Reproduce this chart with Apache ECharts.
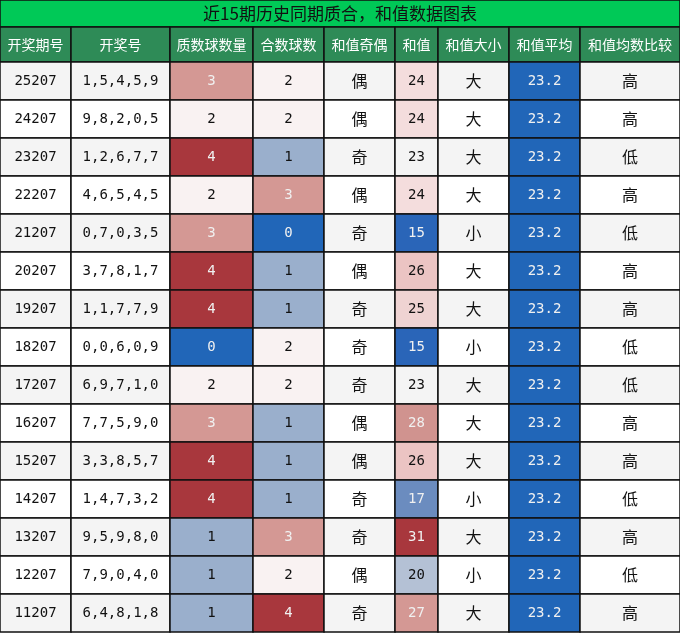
<!DOCTYPE html>
<html><head><meta charset="utf-8">
<script src="https://cdn.jsdelivr.net/npm/echarts@6/dist/echarts.min.js"></script>
<style>html,body{margin:0;padding:0}#c{width:680px;height:633px}</style>
</head><body><div id="c"></div>
<script>
var title = '近15期历史同期质合，和值数据图表';
var headers = ['开奖期号','开奖号','质数球数量','合数球数','和值奇偶','和值','和值大小','和值平均','和值均数比较'];
var periods = ['25207','24207','23207','22207','21207','20207','19207','18207','17207','16207','15207','14207','13207','12207','11207'];
var numbers = ['1,5,4,5,9','9,8,2,0,5','1,2,6,7,7','4,6,5,4,5','0,7,0,3,5','3,7,8,1,7','1,1,7,7,9','0,0,6,0,9','6,9,7,1,0','7,7,5,9,0','3,3,8,5,7','1,4,7,3,2','9,5,9,8,0','7,9,0,4,0','6,4,8,1,8'];
var primes = [3,2,4,2,3,4,4,0,2,3,4,4,1,1,1];
var composites = [2,2,1,3,0,1,1,2,2,1,1,1,3,2,4];
var parity = ['偶','偶','奇','偶','奇','偶','奇','奇','奇','偶','偶','奇','奇','偶','奇'];
var sums = [24,24,23,24,15,26,25,15,23,28,26,17,31,20,27];
var sizes = ['大','大','大','大','小','大','大','小','大','大','大','小','大','小','大'];
var avg = 23.2;
var compare = ['高','高','低','高','低','高','高','低','低','高','高','低','高','低','高'];

// layout
var colEdges = [0,71,170,253,324,395,438,509,580,680];
var titleH = 27, headH = 35, rowH = 38;
var countColor = {0:'#2166b8',1:'#9aafcc',2:'#f9f2f2',3:'#d49894',4:'#a8373d'};
var sumColor = {15:'#2a65b8',17:'#6b8cbf',20:'#b4c1d5',23:null,24:'#f4dddd',25:'#efd3d2',26:'#ebc4c3',27:'#d49894',28:'#d0938f',31:'#a8373d'};
var darkFill = ['#2166b8','#2a65b8','#6b8cbf','#a8373d','#d49894','#d0938f'];

var cells = [];
cells.push({x0:0,x1:680,y0:0,y1:titleH,text:title,fill:'#00c957',color:'#111',font:'"Noto Sans CJK SC"',size:17});
headers.forEach(function(h,i){
  cells.push({x0:colEdges[i],x1:colEdges[i+1],y0:titleH,y1:titleH+headH,text:h,fill:'#2e8b57',color:'#fff',font:'"Noto Sans CJK SC"',size:14});
});
periods.forEach(function(p,r){
  var bg = r%2===0 ? '#f4f4f4' : '#ffffff';
  var y0 = titleH+headH+r*rowH, y1 = y0+rowH;
  var vals = [p,numbers[r],primes[r],composites[r],parity[r],sums[r],sizes[r],avg.toFixed(1),compare[r]];
  var fills = [bg,bg,countColor[primes[r]],countColor[composites[r]],bg,sumColor[sums[r]]||bg,bg,'#2166b8',bg];
  vals.forEach(function(v,c){
    var f = fills[c];
    var cjk = (c===4||c===6||c===8);
    cells.push({x0:colEdges[c],x1:colEdges[c+1],y0:y0,y1:y1,text:String(v),fill:f,
      color: darkFill.indexOf(f)>=0 ? '#f0f0f0' : '#111',
      font: cjk ? '"Noto Sans CJK SC"' : '"DejaVu Sans Mono"', size: cjk?16:14});
  });
});

var chart = echarts.init(document.getElementById('c'));
chart.setOption({
  animation:false,
  grid:{left:0,right:0,top:0,bottom:0},
  xAxis:{type:'value',min:0,max:680,show:false},
  yAxis:{type:'value',min:0,max:633,inverse:true,show:false},
  series:[{
    type:'custom',
    data: cells.map(function(c,i){return [c.x0,c.y0,c.x1,c.y1,i];}),
    renderItem:function(params,api){
      var c = cells[api.value(4)];
      var p0 = api.coord([api.value(0),api.value(1)]);
      var p1 = api.coord([api.value(2),api.value(3)]);
      return {type:'group',children:[
        {type:'rect',shape:{x:p0[0],y:p0[1],width:p1[0]-p0[0],height:p1[1]-p0[1]},
         style:{fill:c.fill,stroke:'#111',lineWidth:1.5}},
        {type:'text',style:{x:(p0[0]+p1[0])/2,y:(p0[1]+p1[1])/2,text:c.text,fill:c.color,
         font:c.size+'px '+c.font,align:'center',verticalAlign:'middle'}}
      ]};
    }
  }]
});
</script></body></html>
